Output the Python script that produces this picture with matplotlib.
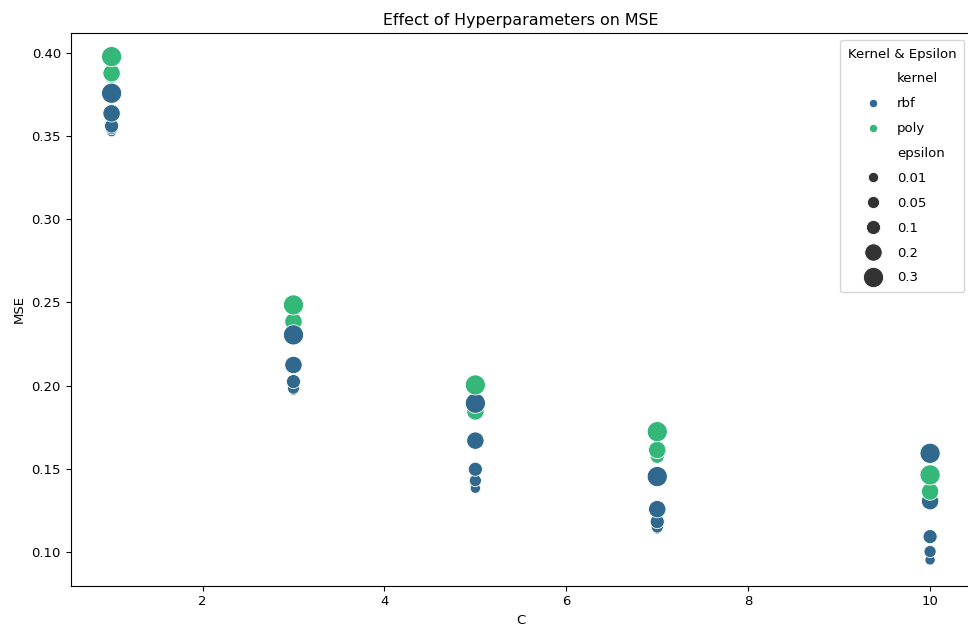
import matplotlib
matplotlib.use("Agg")
import matplotlib.pyplot as plt
import seaborn as sns
import pandas as pd

# ---- data ----
C_values = [1, 3, 5, 7, 10]
epsilon_values = [0.01, 0.05, 0.1, 0.2, 0.3]
kernels = ["rbf", "poly"]

# MSE[C index][epsilon index]
mse_rbf = [
    [0.3527, 0.3545, 0.3561, 0.3637, 0.3758],
    [0.1972, 0.1985, 0.2024, 0.2124, 0.2305],
    [0.1383, 0.1429, 0.1497, 0.1669, 0.1894],
    [0.1138, 0.1150, 0.1182, 0.1257, 0.1453],
    [0.0952, 0.1002, 0.1092, 0.1305, 0.1593],
]
mse_poly = [
    [0.3870, 0.3865, 0.3860, 0.3878, 0.3978],
    [0.2360, 0.2362, 0.2365, 0.2385, 0.2485],
    [0.1860, 0.1865, 0.1870, 0.1845, 0.2004],
    [0.1590, 0.1595, 0.1575, 0.1613, 0.1723],
    [0.1368, 0.1370, 0.1365, 0.1363, 0.1463],
]

rows = []
for i, c in enumerate(C_values):
    for j, e in enumerate(epsilon_values):
        for k in kernels:
            m = mse_rbf[i][j] if k == "rbf" else mse_poly[i][j]
            rows.append({"C": c, "epsilon": e, "kernel": k, "MSE": m})
df = pd.DataFrame(rows)

fig = plt.figure(figsize=(9.68, 6.41), dpi=100)
ax = fig.add_axes([0.0730, 0.0863, 0.9301, 0.8622])

sns.scatterplot(data=df, x="C", y="MSE", hue="kernel", size="epsilon",
                palette="viridis", sizes=(55, 210), ax=ax)

ax.set_xlim(0.55, 10.45)
ax.set_ylim(0.0797, 0.412)
ax.set_xticks([2, 4, 6, 8, 10])
ax.set_yticks([0.10, 0.15, 0.20, 0.25, 0.30, 0.35, 0.40])
ax.tick_params(labelsize=9.5)
ax.set_title("Effect of Hyperparameters on MSE", fontsize=11.4)
ax.set_xlabel("C", fontsize=9.5)
ax.set_ylabel("MSE", fontsize=9.5)

leg = ax.legend(title="Kernel & Epsilon", loc="upper right",
                fontsize=9.5, title_fontsize=9.5,
                labelspacing=0.9, borderpad=0.6)

fig.savefig("out.png", dpi=100)
